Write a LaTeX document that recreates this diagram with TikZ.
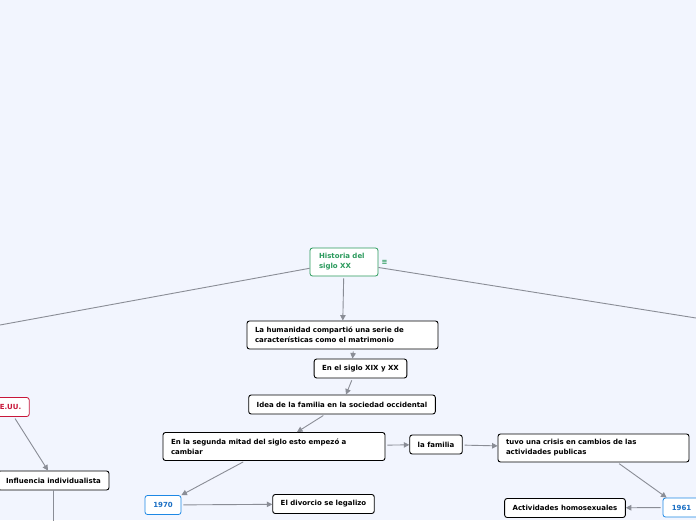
\documentclass[tikz,border=0pt]{standalone}
\usepackage{fontspec}
\usepackage{tikz}
\usepackage{xcolor}
\usetikzlibrary{arrows.meta,positioning,calc}
\setmainfont{DejaVu Sans}
\definecolor{Canvas}{HTML}{F2F5FE}
\definecolor{Muted}{HTML}{8A8D96}
\definecolor{Green}{HTML}{2A9A5C}
\definecolor{Blue}{HTML}{1E88E5}
\definecolor{BlueText}{HTML}{1A6FC4}
\definecolor{Red}{HTML}{C8173A}

\begin{document}
\begin{tikzpicture}[x=1pt,y=-1pt,
  box/.style={rounded corners=2.5pt,draw=black,fill=white,line width=0.9pt,align=left,inner xsep=8pt,inner ysep=2pt,minimum height=19pt,font=\fontsize{7}{10}\selectfont\bfseries},
  boxgreen/.style={box,draw=Green,text=Green,line width=0.8pt},
  boxblue/.style={box,draw=Blue,text=BlueText,line width=0.8pt,align=center},
  boxred/.style={box,draw=Red,text=Red,line width=0.8pt,align=center},
  arrow/.style={-{Triangle[length=5.5pt,width=5.5pt]},line width=0.9pt,draw=Muted,shorten <=2pt},
  link/.style={line width=0.9pt,draw=Muted}
]
\fill[Canvas] (0,0) rectangle (696,520);
\useasboundingbox (0,0) rectangle (696,520);
\clip (0,0) rectangle (696,520);
\node[boxgreen,text width=50pt,inner xsep=9pt,minimum height=28pt] (hist) at (344,262) {Historia del\\siglo XX};
\node[text=Green,font=\fontsize{7}{8}\selectfont\bfseries,inner sep=0pt] (menu) at (384.5,262) {≡};
\node[box,text width=175pt,minimum height=28pt] (hum) at (342.5,335) {La humanidad compartió una serie de\\características como el matrimonio};
\node[box] (siglo) at (360.5,368.5) {En el siglo XIX y XX};
\node[box] (idea) at (342,404.5) {Idea de la familia en la sociedad occidental};
\node[box,text width=206pt,minimum height=28pt] (seg) at (274,446.5) {En la segunda mitad del siglo esto empezó a\\cambiar};
\node[box] (fam) at (436,444.5) {la familia};
\node[box,text width=175pt,minimum height=28pt] (tuvo) at (593.5,448) {tuvo una crisis en cambios de las\\actividades publicas};
\node[boxblue,minimum width=37pt] (y1961) at (681.5,507.5) {1961};
\node[box] (act) at (565,508) {Actividades homosexuales};
\node[boxblue,minimum width=36pt] (y1970) at (163,505) {1970};
\node[box] (div) at (323.5,504) {El divorcio se legalizo};
\node[boxred,minimum width=31pt] (eeuu) at (10.5,407) {E.UU.};
\node[box,minimum width=111pt] (infl) at (53.5,480.5) {Influencia individualista};
\coordinate (offL) at (0,325);
\coordinate (offR) at (696,318);
\coordinate (offD) at (53.5,530);
\draw[link] (hist) -- (offL);
\draw[link] (hist) -- (offR);
\draw[arrow] (hist) -- (hum);
\draw[arrow] ([xshift=11pt]hum.south) -- ([xshift=-8pt]siglo.north);
\draw[arrow] ([xshift=-8pt]siglo.south) -- ([xshift=4pt]idea.north);
\draw[arrow] ([xshift=-17pt]idea.south) -- ([xshift=23pt]seg.north);
\draw[arrow] ([xshift=-29pt]seg.south) -- (y1970.north east);
\draw[arrow] (y1970) -- (div);
\draw[arrow] (seg) -- (fam);
\draw[arrow] (fam) -- (tuvo);
\draw[arrow] ([xshift=24pt]tuvo.south) -- ([xshift=4pt]y1961.north west);
\draw[arrow] (y1961) -- (act);
\draw[arrow] ([xshift=3.5pt]eeuu.south) -- ([xshift=-5.5pt]infl.north);
\draw[link] (infl) -- (offD);
\end{tikzpicture}
\end{document}
